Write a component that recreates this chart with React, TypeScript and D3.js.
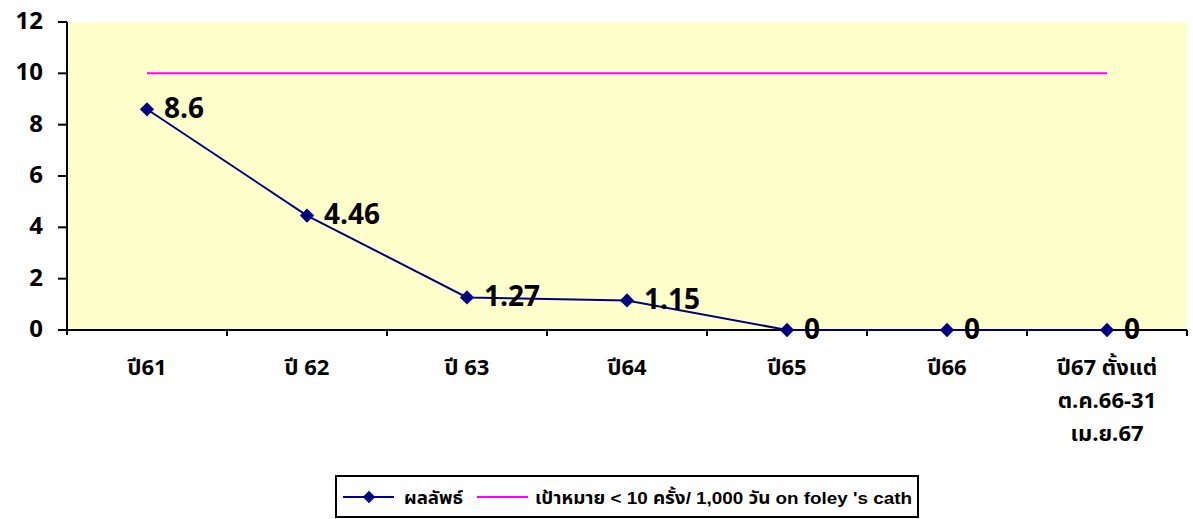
import React from "react";
import * as d3 from "d3";

const categories: string[][] = [
  ["ปี61"],
  ["ปี 62"],
  ["ปี 63"],
  ["ปี64"],
  ["ปี65"],
  ["ปี66"],
  ["ปี67 ตั้งแต่", "ต.ค.66-31", "เม.ย.67"],
];
const results: number[] = [8.6, 4.46, 1.27, 1.15, 0, 0, 0];
const resultLabels: string[] = ["8.6", "4.46", "1.27", "1.15", "0", "0", "0"];
const target: number[] = [10, 10, 10, 10, 10, 10, 10];
const yTicks: number[] = [0, 2, 4, 6, 8, 10, 12];
const legendNames = ["ผลลัพธ์", "เป้าหมาย < 10 ครั้ง/ 1,000 วัน on foley 's cath"];

const W = 1193;
const H = 519;
const left = 67;
const right = 1187;
const top = 22;
const bottom = 330;
const FONT = "Tahoma, 'Noto Sans Thai', 'Noto Sans', 'DejaVu Sans', sans-serif";
const LFONT = "Arial, 'Liberation Sans', 'Noto Sans Thai', 'Noto Sans', sans-serif";

export default function App() {
  const idx = categories.map((_, i) => i);
  const x = d3.scaleBand<number>().domain(idx).range([left, right]);
  const y = d3.scaleLinear().domain([0, 12]).range([bottom, top]);
  const cx = (i: number) => (x(i) as number) + x.bandwidth() / 2;
  const line = d3
    .line<number>()
    .x((_, i) => cx(i))
    .y((d) => y(d));
  const diamond = d3.symbol().type(d3.symbolDiamond2).size(130)() as string;

  return (
    <svg
      width={W}
      height={H}
      style={{ position: "absolute", left: 0, top: 0, background: "#fff" }}
      fontFamily={FONT}
    >
      <rect x={left} y={top} width={right - left} height={bottom - top} fill="#FFFFCC" />
      {/* y axis */}
      <line x1={left} x2={left} y1={top} y2={bottom + 5} stroke="#000" strokeWidth={2} />
      {yTicks.map((t) => (
        <g key={t}>
          <line x1={left - 9} x2={left} y1={y(t)} y2={y(t)} stroke="#000" strokeWidth={2} />
          <text
            x={43}
            y={y(t)}
            textAnchor="end"
            dominantBaseline="central"
            fontSize={24}
            fontWeight="bold"
          >
            {t}
          </text>
        </g>
      ))}
      {/* x axis */}
      <line x1={left} x2={right} y1={bottom} y2={bottom} stroke="#000" strokeWidth={2} />
      {idx.slice(1).map((i) => (
        <line key={i} x1={x(i) as number} x2={x(i) as number} y1={bottom} y2={bottom + 6} stroke="#000" strokeWidth={2} />
      ))}
      <line x1={right} x2={right} y1={bottom} y2={bottom + 6} stroke="#000" strokeWidth={2} />
      {categories.map((lines, i) => (
        <text key={i} x={cx(i)} textAnchor="middle" fontSize={22} fontWeight="bold">
          {lines.map((l, j) => (
            <tspan key={j} x={cx(i)} y={375 + j * 33}>
              {l}
            </tspan>
          ))}
        </text>
      ))}
      {/* target */}
      <path d={line(target) as string} fill="none" stroke="#FF00FF" strokeWidth={2} />
      {/* results */}
      <path d={line(results) as string} fill="none" stroke="#000080" strokeWidth={2} />
      {results.map((v, i) => (
        <g key={i}>
          <path d={diamond} transform={`translate(${cx(i)},${y(v)})`} fill="#000080" />
          <text
            x={cx(i) + 17}
            y={y(v)}
            dominantBaseline="central"
            fontSize={28}
            fontWeight="bold"
          >
            {resultLabels[i]}
          </text>
        </g>
      ))}
      {/* legend */}
      <rect x={336} y={476} width={582} height={41} fill="#fff" stroke="#000" strokeWidth={2} />
      <line x1={343} x2={394} y1={497} y2={497} stroke="#000080" strokeWidth={2} />
      <path d={d3.symbol().type(d3.symbolDiamond2).size(100)() as string} transform="translate(369,497)" fill="#000080" />
      <text x={404} y={498} dominantBaseline="central" fontSize={17} fontWeight="bold" fontFamily={LFONT} textLength={59} lengthAdjust="spacingAndGlyphs">
        {legendNames[0]}
      </text>
      <line x1={477} x2={528} y1={497} y2={497} stroke="#FF00FF" strokeWidth={2} />
      <text x={535} y={498} dominantBaseline="central" fontSize={17} fontWeight="bold" fontFamily={LFONT} textLength={377} lengthAdjust="spacingAndGlyphs">
        {legendNames[1]}
      </text>
    </svg>
  );
}
